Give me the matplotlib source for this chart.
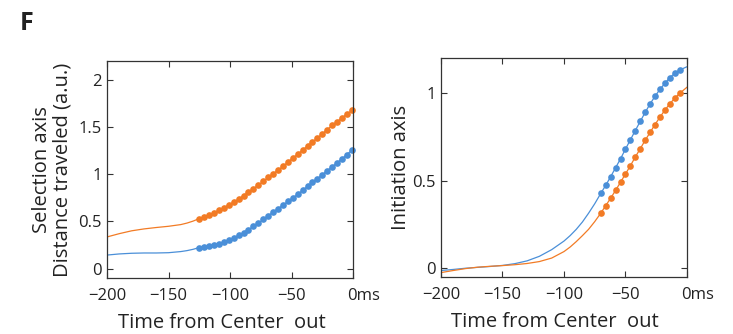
import matplotlib
matplotlib.use("Agg")
import matplotlib.pyplot as plt
import matplotlib.transforms as mtransforms
import numpy as np

plt.rcParams['font.family'] = ['Open Sans', 'DejaVu Sans']

orange = '#F27B25'
blue = '#4A8FD8'
ink = '#222222'

# selection axis: smooth part before the sampled points
sel_line_t = [-200, -190, -180, -170, -160, -150, -140, -135, -130, -125]
sel_orange_line = [0.335, 0.37, 0.40, 0.42, 0.435, 0.448, 0.466, 0.482, 0.503, 0.53]
sel_blue_line = [0.143, 0.155, 0.162, 0.165, 0.165, 0.168, 0.18, 0.19, 0.204, 0.223]

# selection axis: sampled points every 4 ms
sel_dot_t = np.arange(-125, 0, 4)
sel_orange_dots = [0.53, 0.545, 0.566, 0.592, 0.616, 0.644, 0.676, 0.703,
                   0.735, 0.774, 0.808, 0.847, 0.886, 0.924, 0.966, 1.005,
                   1.044, 1.082, 1.128, 1.171, 1.213, 1.255, 1.300, 1.342,
                   1.384, 1.429, 1.472, 1.518, 1.556, 1.598, 1.637, 1.676]
sel_blue_dots = [0.223, 0.229, 0.240, 0.251, 0.265, 0.282, 0.303, 0.324,
                 0.353, 0.381, 0.413, 0.447, 0.482, 0.521, 0.560, 0.598,
                 0.634, 0.672, 0.711, 0.749, 0.787, 0.829, 0.872, 0.914,
                 0.953, 0.995, 1.037, 1.079, 1.121, 1.163, 1.208, 1.255]

# initiation axis
init_line_t = [-200, -190, -180, -170, -160, -150, -140, -130, -120, -110,
               -100, -95, -90, -85, -80, -75, -70]
init_blue_line = [-0.013, -0.007, 0.0, 0.005, 0.010, 0.016, 0.026, 0.042,
                  0.068, 0.106, 0.155, 0.186, 0.222, 0.264, 0.314, 0.368, 0.428]
init_orange_line = [-0.025, -0.013, -0.002, 0.006, 0.011, 0.015, 0.02, 0.027,
                    0.038, 0.058, 0.095, 0.121, 0.152, 0.186, 0.222, 0.266, 0.315]
init_dot_t = np.arange(-70, -5, 4)
init_blue_dots = [0.428, 0.474, 0.523, 0.574, 0.625, 0.680, 0.733, 0.786,
                  0.838, 0.889, 0.938, 0.981, 1.021, 1.055, 1.088, 1.112, 1.131]
init_orange_dots = [0.315, 0.358, 0.400, 0.445, 0.491, 0.538, 0.585, 0.635,
                    0.682, 0.730, 0.775, 0.820, 0.862, 0.902, 0.938, 0.970, 0.998]
init_end_t = [-6, 0]
init_blue_end = [1.131, 1.15]
init_orange_end = [0.998, 1.033]

xticks = [-200, -150, -100, -50, 0]
xticklabels = ['\u2212200', '\u2212150', '\u2212100', '\u221250', '0ms']

fig = plt.figure(figsize=(7.33, 3.34), dpi=100)
ax1 = fig.add_axes([0.146, 0.1677, 0.3356, 0.6497])
ax2 = fig.add_axes([0.6016, 0.1707, 0.3356, 0.6557])


def style(ax):
    ax.set_xlim(-200, 0)
    ax.set_xticks(xticks)
    ax.set_xticklabels(xticklabels)
    ax.tick_params(direction='in', top=True, right=True, length=4, width=0.8,
                   color='#333333', labelsize=12, labelcolor=ink)
    ax.tick_params(axis='x', pad=7)
    ax.tick_params(axis='y', pad=4)
    for s in ax.spines.values():
        s.set_color('#333333')
        s.set_linewidth(0.9)
    # "0ms": keep the 0 on its tick, let the unit hang off to the right
    lab = ax.get_xticklabels()[-1]
    lab.set_horizontalalignment('left')
    lab.set_transform(lab.get_transform() +
                      mtransforms.ScaledTranslation(-4.5 / 72, 0, fig.dpi_scale_trans))
    ax.set_xlabel('Time from Center  out', fontsize=14.5, color=ink)
    ax.xaxis.set_label_coords(0.465, -0.16)


mk = dict(marker='o', markersize=4.8, markeredgewidth=0, linewidth=0.9)

ax1.plot(sel_line_t, sel_orange_line, color=orange, linewidth=0.9)
ax1.plot(sel_line_t, sel_blue_line, color=blue, linewidth=0.9)
ax1.plot(sel_dot_t, sel_orange_dots, color=orange, clip_on=False, **mk)
ax1.plot(sel_dot_t, sel_blue_dots, color=blue, clip_on=False, **mk)
ax1.set_ylim(-0.1, 2.2)
ax1.set_yticks([0, 0.5, 1, 1.5, 2])
ax1.set_yticklabels(['0', '0.5', '1', '1.5', '2'])
style(ax1)
ax1.set_ylabel('Selection axis\nDistance traveled (a.u.)', fontsize=14.5,
               color=ink, linespacing=1.05, labelpad=4)

ax2.plot(init_line_t, init_blue_line, color=blue, linewidth=0.9)
ax2.plot(init_line_t, init_orange_line, color=orange, linewidth=0.9)
ax2.plot(init_end_t, init_blue_end, color=blue, linewidth=0.9)
ax2.plot(init_end_t, init_orange_end, color=orange, linewidth=0.9)
ax2.plot(init_dot_t, init_blue_dots, color=blue, **mk)
ax2.plot(init_dot_t, init_orange_dots, color=orange, **mk)
ax2.set_ylim(-0.05, 1.2)
ax2.set_yticks([0, 0.5, 1])
ax2.set_yticklabels(['0', '0.5', '1'])
style(ax2)
ax2.set_ylabel('Initiation axis', fontsize=14.5, color=ink, labelpad=1)

fig.text(0.027, 0.91, 'F', fontsize=18, fontweight='bold', color=ink)

fig.savefig('out.png', dpi=100)
